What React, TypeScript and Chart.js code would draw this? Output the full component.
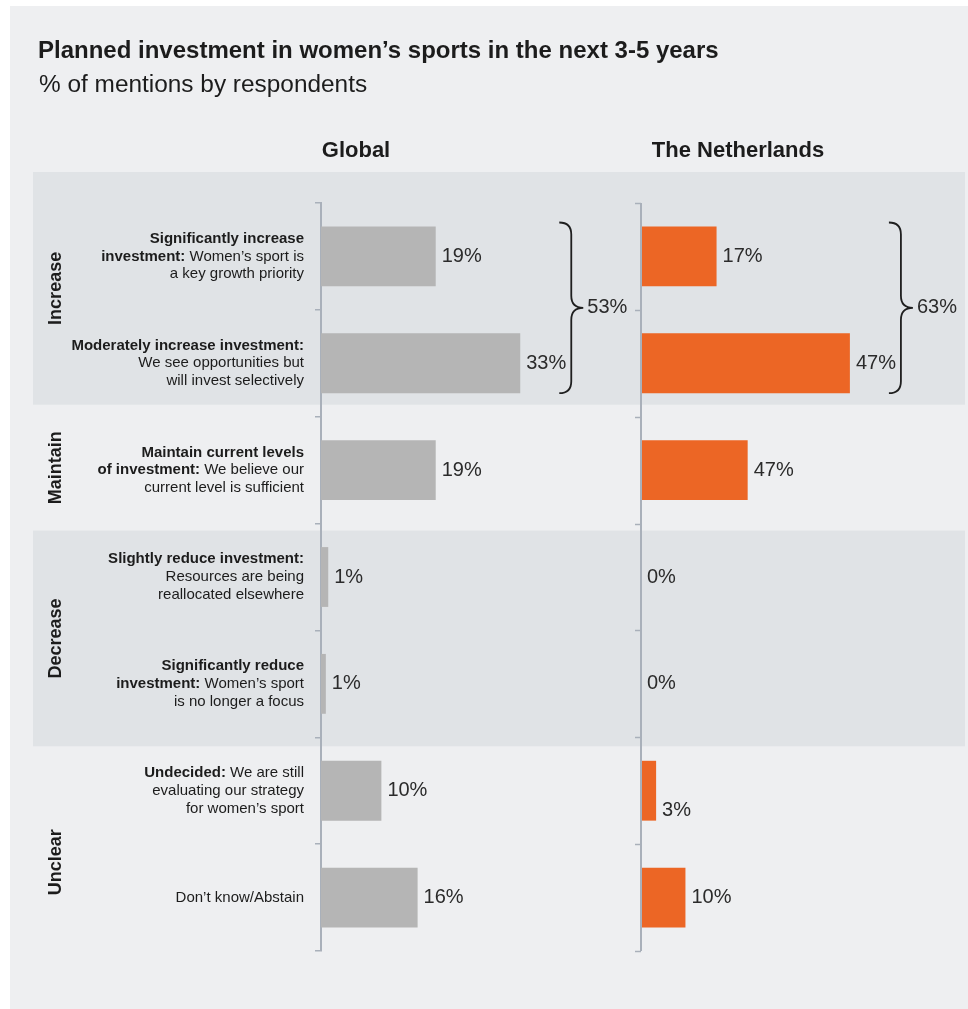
import React, { useEffect, useRef } from "react";
import { Chart, registerables } from "chart.js";

Chart.register(...registerables);

const W = 968;
const H = 1009;

// ---------- DATA ----------
const title = "Planned investment in women’s sports in the next 3-5 years";
const subtitle = "% of mentions by respondents";
const panelTitles = ["Global", "The Netherlands"];

const categories = [
  "Significantly increase investment",
  "Moderately increase investment",
  "Maintain current levels of investment",
  "Slightly reduce investment",
  "Significantly reduce investment",
  "Undecided",
  "Don’t know/Abstain",
];

// each line: [bold part, regular part]
const categoryLines: [string, string][][] = [
  [["Significantly increase", ""], ["investment:", " Women’s sport is"], ["", "a key growth priority"]],
  [["Moderately increase investment:", ""], ["", "We see opportunities but"], ["", "will invest selectively"]],
  [["Maintain current levels", ""], ["of investment:", " We believe our"], ["", "current level is sufficient"]],
  [["Slightly reduce investment:", ""], ["", "Resources are being"], ["", "reallocated elsewhere"]],
  [["Significantly reduce", ""], ["investment:", " Women’s sport"], ["", "is no longer a focus"]],
  [["Undecided:", " We are still"], ["", "evaluating our strategy"], ["", "for women’s sport"]],
  [["", "Don’t know/Abstain"]],
];

const groupNames = ["Increase", "Maintain", "Decrease", "Unclear"];
const groupFirst = [0, 2, 3, 5];
const groupLast = [1, 2, 4, 6];
const groupShaded = [true, false, true, false];

const globalValues = [19, 33, 19, 1.2, 0.8, 10, 16];
const globalLabels = ["19%", "33%", "19%", "1%", "1%", "10%", "16%"];
const netherlandsValues = [17, 47, 24, 0, 0, 3.4, 10];
const netherlandsLabels = ["17%", "47%", "47%", "0%", "0%", "3%", "10%"];
const increaseTotals = ["53%", "63%"];

const globalMax = 53;
const netherlandsMax = 72;

// ---------- STYLE ----------
const FONT = '"Liberation Sans", Arial, Helvetica, sans-serif';
const AXIS_COLOR = "#a9b0ba";
const CARD_COLOR = "#eeeff1";
const BAND_COLOR = "#e0e3e6";
const TEXT_COLOR = "#1c1c1c";
const VALUE_COLOR = "#2b2b2b";
const GLOBAL_COLOR = "#b5b5b5";
const NL_COLOR = "#ec6625";

function drawMixedRight(ctx: CanvasRenderingContext2D, parts: [string, string], right: number, y: number, size: number) {
  const [b, r] = parts;
  const bold = `bold ${size}px ${FONT}`;
  const reg = `${size}px ${FONT}`;
  ctx.font = bold;
  const wb = b ? ctx.measureText(b).width : 0;
  ctx.font = reg;
  const wr = r ? ctx.measureText(r).width : 0;
  let x = right - wb - wr;
  ctx.textAlign = "left";
  if (b) {
    ctx.font = bold;
    ctx.fillText(b, x, y);
    x += wb;
  }
  if (r) {
    ctx.font = reg;
    ctx.fillText(r, x, y);
  }
}

function drawBrace(ctx: CanvasRenderingContext2D, xv: number, top: number, bottom: number) {
  const mid = (top + bottom) / 2;
  const r = 12;
  ctx.beginPath();
  ctx.moveTo(xv - r, top);
  ctx.quadraticCurveTo(xv, top, xv, top + r);
  ctx.lineTo(xv, mid - r);
  ctx.quadraticCurveTo(xv, mid, xv + r, mid);
  ctx.quadraticCurveTo(xv, mid, xv, mid + r);
  ctx.lineTo(xv, bottom - r);
  ctx.quadraticCurveTo(xv, bottom, xv - r, bottom);
  ctx.stroke();
}

const decorPlugin = {
  id: "decor",
  beforeDraw(chart: any) {
    const ctx: CanvasRenderingContext2D = chart.ctx;
    const ys = chart.scales.y;
    const step = ys.getPixelForValue(1) - ys.getPixelForValue(0);
    const boundary = (i: number) => ys.getPixelForValue(i) - step / 2;
    const area = chart.chartArea;
    ctx.save();
    // card
    ctx.fillStyle = CARD_COLOR;
    ctx.fillRect(10, 6, W - 10, H - 6);

    // group bands
    const edgeShift = [-12, 7, 9];
    const edges: number[] = [];
    edges.push(boundary(0) - 31);
    for (let g = 1; g < groupNames.length; g++) edges.push(boundary(groupFirst[g]) + edgeShift[g - 1]);
    edges.push(boundary(categories.length) + 27);
    for (let g = 0; g < groupNames.length; g++) {
      if (groupShaded[g]) {
        ctx.fillStyle = BAND_COLOR;
        ctx.fillRect(33, edges[g], 932, edges[g + 1] - edges[g]);
      }
    }

    // title
    ctx.fillStyle = TEXT_COLOR;
    ctx.textBaseline = "alphabetic";
    ctx.textAlign = "left";
    ctx.font = `bold 24px ${FONT}`;
    ctx.fillText(title, 38, 58);
    ctx.font = `24.4px ${FONT}`;
    ctx.fillText(subtitle, 39, 92);

    // panel titles
    const xg = chart.scales.xGlobal.getPixelForValue(0);
    const xn = chart.scales.xNL.getPixelForValue(0);
    ctx.font = `bold 22px ${FONT}`;
    ctx.textAlign = "center";
    ctx.fillText(panelTitles[0], xg + 35, 157);
    ctx.fillText(panelTitles[1], xn + 97, 157);

    // group labels (rotated)
    ctx.font = `bold 18px ${FONT}`;
    ctx.textBaseline = "middle";
    for (let g = 0; g < groupNames.length; g++) {
      const cy = (edges[g] + edges[g + 1]) / 2;
      ctx.save();
      ctx.translate(56, cy);
      ctx.rotate(-Math.PI / 2);
      ctx.textAlign = "center";
      ctx.fillText(groupNames[g], 0, 0);
      ctx.restore();
    }

    // category labels
    const right = area.left - 17;
    const lh = 17.7;
    for (let i = 0; i < categoryLines.length; i++) {
      const lines = categoryLines[i];
      const cy = ys.getPixelForValue(i);
      for (let k = 0; k < lines.length; k++) {
        const y = cy + (k - (lines.length - 1) / 2) * lh;
        drawMixedRight(ctx, lines[k], right, y, 15);
      }
    }
    ctx.restore();
  },
  afterDatasetsDraw(chart: any) {
    const ctx: CanvasRenderingContext2D = chart.ctx;
    const ys = chart.scales.y;
    const step = ys.getPixelForValue(1) - ys.getPixelForValue(0);
    const boundary = (i: number) => ys.getPixelForValue(i) - step / 2;
    ctx.save();

    // second panel axis
    const xn = chart.scales.xNL.getPixelForValue(0);
    ctx.strokeStyle = AXIS_COLOR;
    ctx.lineWidth = 2;
    ctx.beginPath();
    ctx.moveTo(xn, boundary(0));
    ctx.lineTo(xn, boundary(categories.length));
    ctx.stroke();
    ctx.lineWidth = 1.5;
    for (let i = 0; i <= categories.length; i++) {
      const y = Math.round(boundary(i)) + 0.5;
      ctx.beginPath();
      ctx.moveTo(xn - 6, y);
      ctx.lineTo(xn, y);
      ctx.stroke();
    }

    // value labels
    const labelSets = [globalLabels, netherlandsLabels];
    const lowLabel = (d: number, i: number) => d === 1 && i === 5;
    ctx.font = `20px ${FONT}`;
    ctx.fillStyle = VALUE_COLOR;
    ctx.textAlign = "left";
    ctx.textBaseline = "middle";
    const labelEnds: number[][] = [[], []];
    for (let d = 0; d < 2; d++) {
      const meta = chart.getDatasetMeta(d);
      meta.data.forEach((bar: any, i: number) => {
        const txt = labelSets[d][i];
        const x = Math.max(bar.x, bar.base) + 6;
        const y = lowLabel(d, i) ? bar.y + bar.height / 2 - 10 : bar.y;
        ctx.fillText(txt, x, y);
        labelEnds[d][i] = x + ctx.measureText(txt).width;
      });
    }

    // braces for the "Increase" group
    ctx.strokeStyle = "#1f1f1f";
    ctx.lineWidth = 1.8;
    for (let d = 0; d < 2; d++) {
      const meta = chart.getDatasetMeta(d);
      const first = meta.data[groupFirst[0]];
      const last = meta.data[groupLast[0]];
      const top = first.y - first.height / 2 - 4;
      const bottom = last.y + last.height / 2;
      let xv = 0;
      for (let i = groupFirst[0]; i <= groupLast[0]; i++) xv = Math.max(xv, labelEnds[d][i]);
      xv += 5;
      drawBrace(ctx, xv, top, bottom);
      ctx.fillStyle = VALUE_COLOR;
      ctx.fillText(increaseTotals[d], xv + 16, (top + bottom) / 2);
    }
    ctx.restore();
  },
};

export default function App() {
  const canvasRef = useRef<HTMLCanvasElement | null>(null);

  useEffect(() => {
    const canvas = canvasRef.current;
    if (!canvas) return;
    const chart = new Chart(canvas, {
      type: "bar",
      data: {
        labels: categories,
        datasets: [
          {
            label: panelTitles[0],
            data: globalValues,
            backgroundColor: GLOBAL_COLOR,
            xAxisID: "xGlobal",
            yAxisID: "y",
            grouped: false,
            barPercentage: 0.56,
            categoryPercentage: 1,
          },
          {
            label: panelTitles[1],
            data: netherlandsValues,
            backgroundColor: NL_COLOR,
            xAxisID: "xNL",
            yAxisID: "y",
            grouped: false,
            barPercentage: 0.56,
            categoryPercentage: 1,
          },
        ],
      } as any,
      options: {
        indexAxis: "y",
        responsive: false,
        animation: false,
        events: [],
        layout: { padding: { left: 0, right: 7, top: 203, bottom: 58 } },
        plugins: {
          legend: { display: false },
          tooltip: { enabled: false },
          title: { display: false },
        },
        scales: {
          xGlobal: {
            type: "linear",
            position: "bottom",
            min: 0,
            max: globalMax,
            display: false,
            stack: "panels",
            stackWeight: 1,
          },
          xNL: {
            type: "linear",
            position: "bottom",
            min: 0,
            max: netherlandsMax,
            display: false,
            stack: "panels",
            stackWeight: 1,
          },
          y: {
            type: "category",
            position: "left",
            offset: true,
            grid: {
              offset: true,
              drawOnChartArea: false,
              drawTicks: true,
              tickLength: 6,
              color: AXIS_COLOR,
              lineWidth: 1.5,
            },
            border: { display: true, color: AXIS_COLOR, width: 2 },
            ticks: { display: false },
            afterFit: (s: any) => {
              s.width = 321;
            },
          },
        },
      } as any,
      plugins: [decorPlugin],
    });
    return () => chart.destroy();
  }, []);

  return (
    <div style={{ position: "fixed", left: 0, top: 0, width: W, height: H, background: "#ffffff" }}>
      <canvas ref={canvasRef} width={W} height={H} style={{ display: "block", width: W, height: H }} />
    </div>
  );
}
